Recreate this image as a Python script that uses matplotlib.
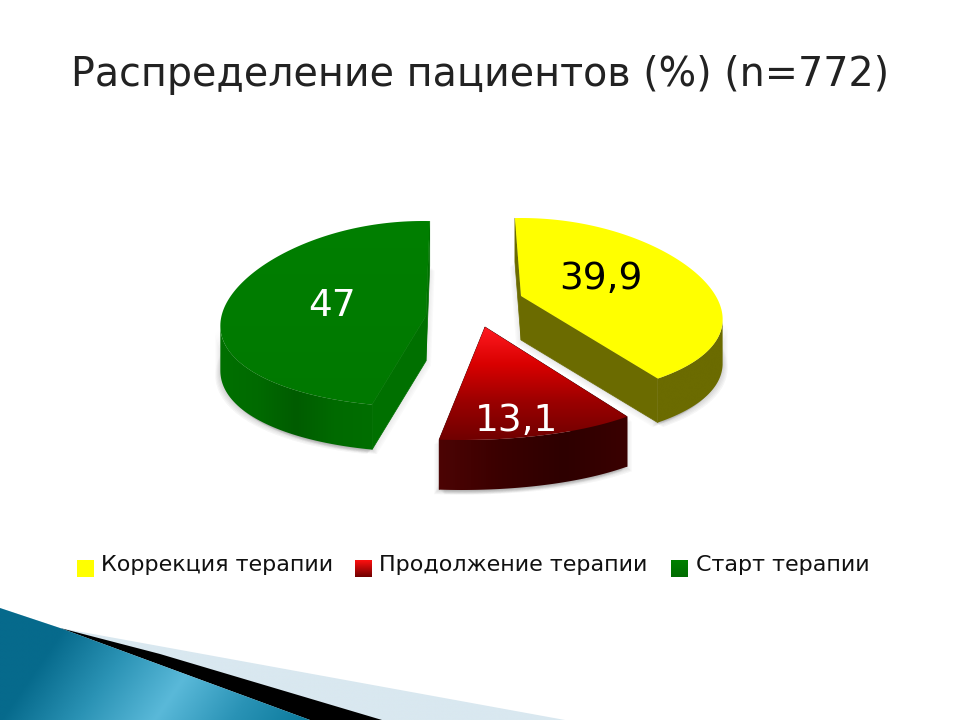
import numpy as np
import matplotlib
matplotlib.use('Agg')
import matplotlib.pyplot as plt
from matplotlib.colors import LinearSegmentedColormap
from matplotlib.patches import Polygon

title = 'Распределение пациентов (%) (n=772)'
categories = ['Коррекция терапии', 'Продолжение терапии', 'Старт терапии']
values = [39.9, 13.1, 47]
value_labels = ['39,9', '13,1', '47']


def gradient(ax, pts, colors, extent, horizontal=False, z=2, tilt=0.0):
    # gradient image clipped to a polygon
    cmap = LinearSegmentedColormap.from_list('g', colors)
    xx, yy = np.meshgrid(np.linspace(0, 1, 256), np.linspace(0, 1, 256))
    if horizontal:
        g = xx + tilt * (yy - 1)
    else:
        g = yy
    im = ax.imshow(g, cmap=cmap, vmin=0, vmax=1, extent=extent, aspect='auto', zorder=z, origin='upper')
    im.set_clip_path(Polygon(pts, closed=True, transform=ax.transData))


def wedge_points(s, start, sweep):
    th = np.radians(np.linspace(start, start + sweep, 120))
    x = s['cx'] + s['rx'] * np.sin(th) * (1 - 0.13 * np.cos(th))
    y = s['cy'] - s['ry'] * np.cos(th)
    return np.column_stack([x, y])


def draw_wedge(ax, s, value):
    arc = wedge_points(s, s['start'], value * 3.6)
    apex = np.array(s['apex'], dtype=float)
    pts = np.vstack([arc, apex])
    down = np.array([0, s['depth']])
    # front part of the rim only, where x runs right to left
    front = arc[np.gradient(arc[:, 0]) < 0]
    wall = np.vstack([front, (front + down)[::-1]])
    # soft shadow under the slice
    for k in range(1, 6):
        for dx in (-k, k):
            for shape in (wall, pts + down):
                ax.add_patch(Polygon(shape + [dx, k * 0.9], closed=True, fc='#303030', ec='none',
                                     alpha=0.02, zorder=1))
    # the two cut faces
    for a, b, col in [(arc[0], apex, s['inner'][0]), (arc[-1], apex, s['inner'][1])]:
        quad = [a, b, b + down, a + down]
        ax.add_patch(Polygon(quad, closed=True, fc=col, ec=col, lw=0.5, zorder=s['inner_z']))
    # outer wall
    ext = [wall[:, 0].min(), wall[:, 0].max(), wall[:, 1].max(), wall[:, 1].min()]
    gradient(ax, wall, s['wall'], ext, horizontal=True, z=3)
    # top face
    ext = [pts[:, 0].min(), pts[:, 0].max(), pts[:, 1].max(), pts[:, 1].min()]
    gradient(ax, pts, s['top'], ext, z=4)


slices = [
    dict(cx=521, cy=308, rx=200, ry=90, start=-2, apex=(521, 296), depth=44,
         top=['#ffff00', '#ffff00'], wall=['#6b6b00', '#6b6b00'],
         inner=['#6b6b00', '#6b6b00'], inner_z=3.5),
    dict(cx=462, cy=349, rx=225, ry=91, start=138, apex=(485, 327), depth=50,
         top=['#ff1a20', '#d80000', '#9a0000', '#700000'], wall=['#4c0404', '#3a0000', '#2e0000', '#3a0000'],
         inner=['#3a0000', '#4c0404'], inner_z=2.5),
    dict(cx=423, cy=314, rx=201, ry=93, start=193, apex=(426, 316), depth=45,
         top=['#007f00', '#007800'], wall=['#007000', '#006a00', '#005c00', '#006a00', '#006e00'],
         inner=['#007000', '#007000'], inner_z=3.5),
]
label_xy = [(601, 279), (517, 421), (332, 306)]
label_colors = ['black', 'white', 'white']

plt.rcParams['font.family'] = ['DejaVu Sans']

fig = plt.figure(figsize=(9.6, 7.2), dpi=100)
ax = fig.add_axes([0, 0, 1, 1])

# bottom banner of the slide
gradient(ax, [(0, 720), (0, 608), (60, 628), (565, 720)], ['#d9e8f0', '#d9e8f0'], [0, 565, 720, 608], z=1)
gradient(ax, [(60, 628), (160, 654), (382, 720), (310, 720)], ['black', 'black'], [0, 400, 720, 608], z=1.1)
gradient(ax, [(0, 720), (0, 608), (60, 628), (310, 720)],
         ['#066a8c', '#2b93b5', '#5ab9d9', '#2a93b6', '#0b7a9c'], [0, 310, 720, 608],
         horizontal=True, z=1.2, tilt=0.25)

for s, v in zip(slices, values):
    draw_wedge(ax, s, v)

for (x, y), lab, c in zip(label_xy, value_labels, label_colors):
    ax.text(x, y, lab, color=c, fontsize=27, ha='center', va='center', zorder=6)

ax.text(480, 75, title, fontsize=28.5, color='#222222', ha='center', va='center')

# legend
swatch_x = [77, 355, 671]
text_x = [101, 379, 696]
swatch_colors = [['#ffff00', '#ffff00'], ['#ff1010', '#6e0000'], ['#008000', '#006c00']]
for sx, tx, name, cols in zip(swatch_x, text_x, categories, swatch_colors):
    sq = [(sx, 560), (sx + 17, 560), (sx + 17, 577), (sx, 577)]
    gradient(ax, sq, cols, [sx, sx + 17, 577, 560], z=3)
    ax.text(tx, 565, name, fontsize=16, color='#111111', ha='left', va='center')

ax.set_xlim(0, 960)
ax.set_ylim(720, 0)
ax.axis('off')
fig.savefig('out.png', dpi=100)
